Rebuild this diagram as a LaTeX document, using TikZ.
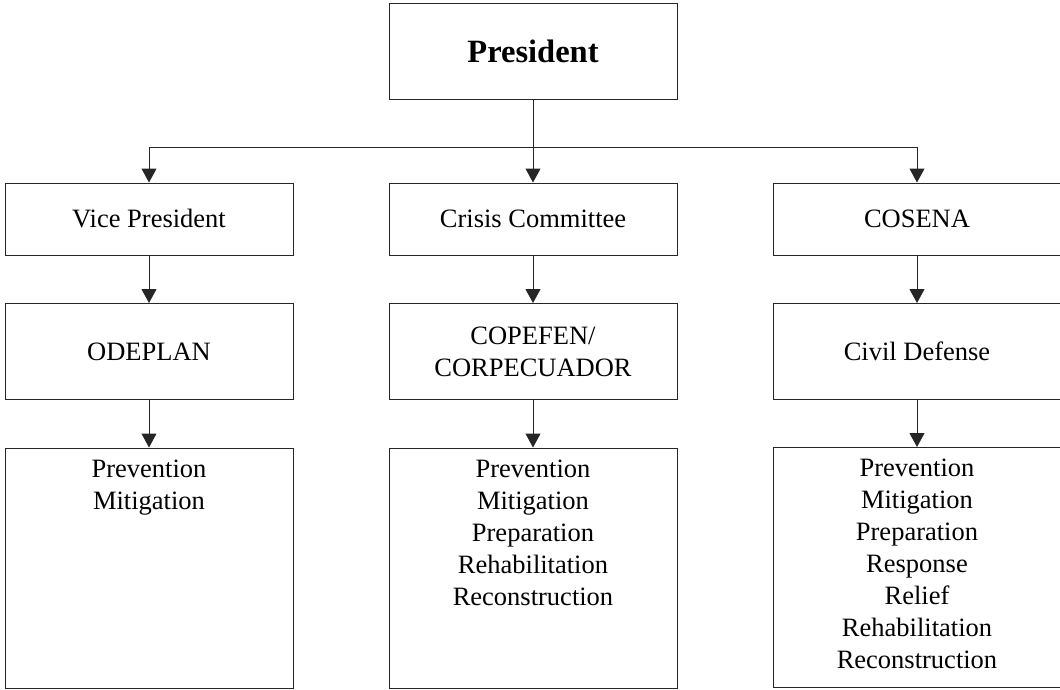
\documentclass[tikz,border=0pt]{standalone}
\usepackage{fontspec}
\setmainfont{Liberation Serif}
\usepackage{tikz}
\usetikzlibrary{arrows.meta, positioning}

\begin{document}
\begin{tikzpicture}[
  x=1pt, y=1pt,
  box/.style={draw=black!85, line width=1pt, minimum width=288pt, inner sep=0pt, align=center,
    font=\fontsize{26.5}{32}\selectfont},
  top/.style={box, minimum height=96pt, font=\fontsize{32.5}{38}\selectfont\bfseries},
  unit/.style={box, minimum height=72pt},
  agency/.style={box, minimum height=96pt},
  tasks/.style={box, minimum height=240pt},
  list/.style={inner sep=0pt, align=center, anchor=north, font=\fontsize{26.5}{32}\selectfont},
  arr/.style={-{Triangle[length=14pt, width=15pt]}, line width=1pt, black!85},
]
  \useasboundingbox (0,0) rectangle (1060,-689);

  % Top
  \node[top] (pres) at (533, -51) {President};
  \coordinate (bus) at (533, -147);

  % Second row
  \node[unit] (vp) at (149, -219) {Vice President};
  \node[unit] (crisis) at (533, -219) {Crisis Committee};
  \node[unit] (cosena) at (917, -219) {COSENA};

  % Third row
  \node[agency] (odeplan) at (149, -351.5) {ODEPLAN};
  \node[agency] (copefen) at (533, -351.5) {COPEFEN/\\CORPECUADOR};
  \node[agency] (civil) at (917, -351.5) {Civil Defense};

  % Task boxes
  \node[tasks] (odeTasks) at (149, -568) {};
  \node[tasks] (copTasks) at (533, -568) {};
  \node[tasks] (civTasks) at (917, -567.5) {};

  \node[list] (odeList) at ([yshift=-12pt]odeTasks.north) {Prevention\\Mitigation};
  \node[list] (copList) at ([yshift=-12pt]copTasks.north) {Prevention\\Mitigation\\Preparation\\Rehabilitation\\Reconstruction};
  \node[list] (civList) at ([yshift=-12pt]civTasks.north) {Prevention\\Mitigation\\Preparation\\Response\\Relief\\Rehabilitation\\Reconstruction};

  % Arrows
  \draw[line width=1pt, black!85] (pres.south) -- (bus);
  \draw[line width=1pt, black!85] (vp.north |- bus) -- (cosena.north |- bus);
  \draw[arr] (bus) -| (vp.north);
  \draw[arr] (bus) -- (crisis.north);
  \draw[arr] (bus) -| (cosena.north);
  \draw[arr] (vp) -- (odeplan);
  \draw[arr] (crisis) -- (copefen);
  \draw[arr] (cosena) -- (civil);
  \draw[arr] (odeplan) -- (odeTasks);
  \draw[arr] (copefen) -- (copTasks);
  \draw[arr] (civil) -- (civTasks);
\end{tikzpicture}
\end{document}
